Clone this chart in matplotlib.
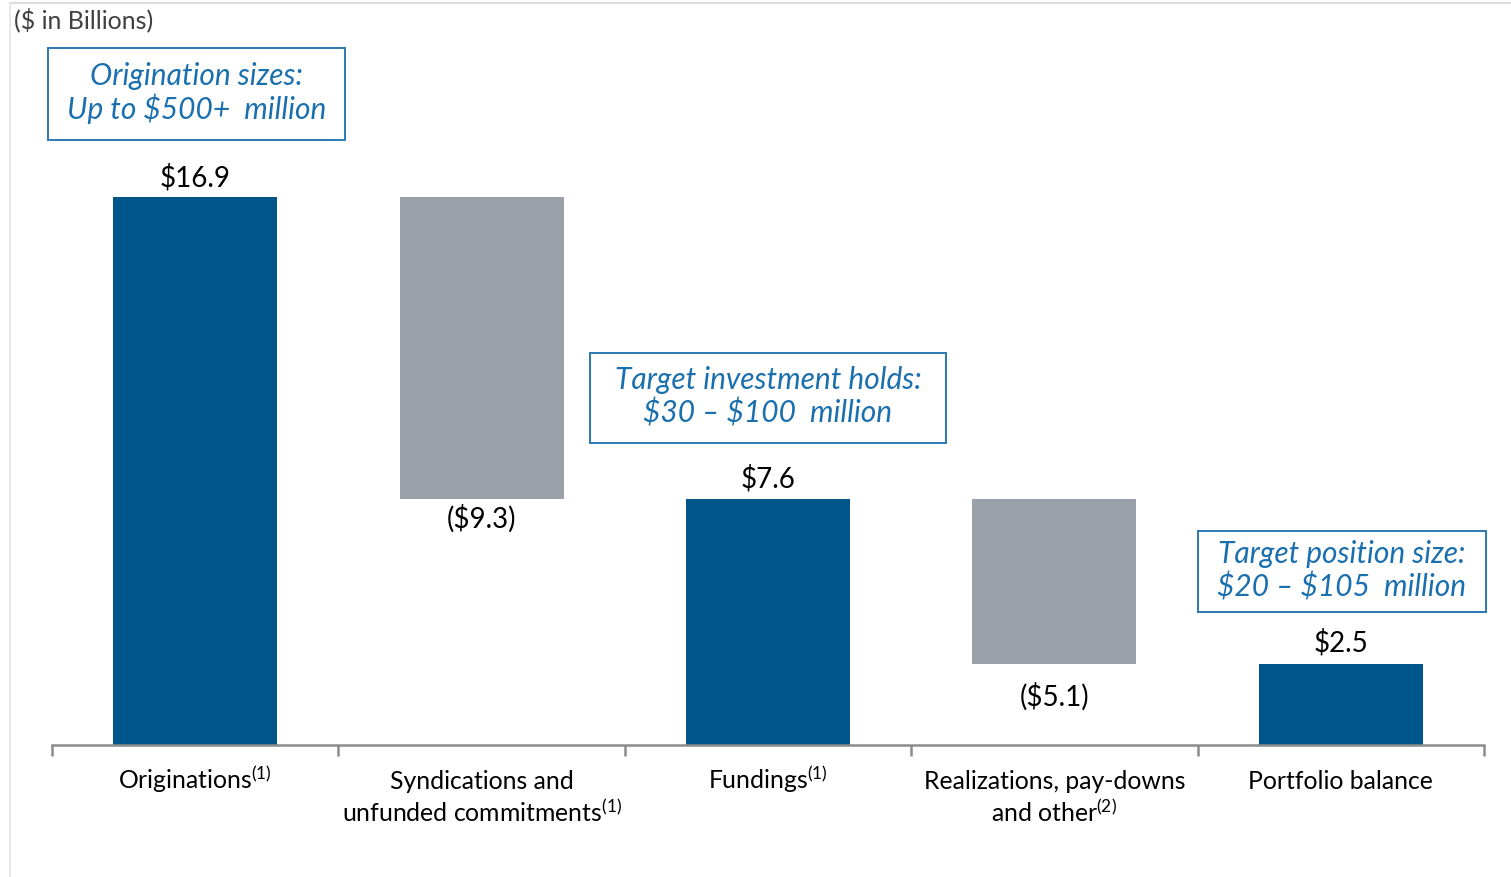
import matplotlib.pyplot as plt
from matplotlib.patches import Rectangle
from matplotlib.lines import Line2D

plt.rcParams['font.family'] = ['Lato', 'DejaVu Sans']
plt.rcParams['mathtext.fontset'] = 'custom'
plt.rcParams['mathtext.rm'] = 'Lato'
plt.rcParams['mathtext.it'] = 'Lato:italic'

categories = [
    'Originations$^{(1)}$',
    'Syndications and\nunfunded commitments$^{(1)}$',
    'Fundings$^{(1)}$',
    'Realizations, pay-downs\nand other$^{(2)}$',
    'Portfolio balance',
]
values = [16.9, -9.3, 7.6, -5.1, 2.5]
is_total = [True, False, True, False, True]
value_labels = ['$16.9', '($9.3)', '$7.6', '($5.1)', '$2.5']

notes = [
    'Origination sizes:\nUp to $500+  million',
    'Target investment holds:\n$30 \u2013 $100  million',
    'Target position size:\n$20 \u2013 $105  million',
]

BLUE = '#00568A'
GRAY = '#9AA1A9'
NOTE = '#1A6FAE'
W, H = 1511, 877

fig = plt.figure(figsize=(W / 100, H / 100), dpi=100)


def fx(px):
    return px / W


def fy(py):
    return 1 - py / H


ax = fig.add_axes([fx(52), fy(745), fx(1484) - fx(52), fy(60) - fy(745)])

# waterfall: totals start at zero, deltas hang from the previous level
bottoms = []
level = 0.0
for v, tot in zip(values, is_total):
    if tot:
        bottoms.append(0.0)
        level = v
    else:
        bottoms.append(level + v)
        level = level + v
heights = [abs(v) for v in values]
colors = [BLUE if t else GRAY for t in is_total]
xs = list(range(len(values)))

ax.bar(xs, heights, bottom=bottoms, width=0.573, color=colors, zorder=2)

label_gap = [5, 6, 6, 19, 7]  # pixels between bar end and its value
for x, v, b, h, lab, g in zip(xs, values, bottoms, heights, value_labels, label_gap):
    if v > 0:
        ax.annotate(lab, (x, b + h), xytext=(0, g), textcoords='offset pixels',
                    ha='center', va='bottom', fontsize=20, color='black',
                    parse_math=False)
    else:
        ax.annotate(lab, (x, b), xytext=(0, -g), textcoords='offset pixels',
                    ha='center', va='top', fontsize=20, color='black',
                    parse_math=False)

ax.set_xlim(-0.5, len(values) - 0.5)
ax.set_ylim(0, 685 / (548 / 16.9))
for s in ['top', 'right', 'left']:
    ax.spines[s].set_visible(False)
ax.spines['bottom'].set_color('#8C8C8C')
ax.spines['bottom'].set_linewidth(1.8)
ax.set_yticks([])
ax.set_xticks([])
ax.set_xticks([i - 0.5 for i in range(len(values) + 1)], minor=True)
ax.tick_params(axis='x', which='minor', length=8, width=1.8, color='#8C8C8C',
               direction='out', labelbottom=False)

# category names, one baseline per line so all first lines sit level
for x, cat in zip(xs, categories):
    for i, line in enumerate(cat.split('\n')):
        ax.annotate(line, (x, 0), xytext=(0, -44 - 33 * i), textcoords='offset pixels',
                    ha='center', va='baseline', fontsize=17.8, color='black')

# callout boxes (pixel extents)
boxes = [(48, 48, 345, 140), (590, 353, 946, 443), (1198, 531, 1486, 612)]
for (x0, y0, x1, y1), txt in zip(boxes, notes):
    fig.patches.append(Rectangle((fx(x0), fy(y1)), fx(x1) - fx(x0), fy(y0) - fy(y1),
                                 transform=fig.transFigure, fill=False,
                                 edgecolor='#2A79B6', linewidth=1.4))
    fig.text(fx((x0 + x1) / 2), fy((y0 + y1) / 2 - 1), txt, ha='center', va='center',
             fontsize=21.5, style='italic', color=NOTE, linespacing=1.17,
             parse_math=False)

fig.text(fx(14), fy(20), '($ in Billions)', ha='left', va='center', fontsize=18,
         color='#404040', parse_math=False)

# thin frame along the top and left edges
fig.add_artist(Line2D([fx(10), 1], [fy(3), fy(3)], color='#D8DCE0', linewidth=1.5))
fig.add_artist(Line2D([fx(10), fx(10)], [fy(3), 0], color='#E3E6E9', linewidth=1.2))

fig.savefig('out.png', dpi=100)
